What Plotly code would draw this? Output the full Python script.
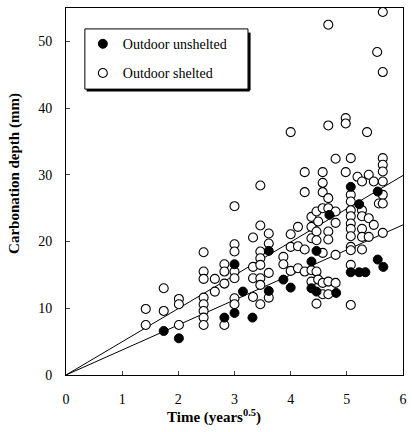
import plotly.graph_objects as go

# ---- data ----
unsheltered_x = [1.74, 2.01, 2.82, 3.00, 3.00, 3.15, 3.32, 3.61, 3.61, 3.87, 4.00,
                 4.37, 4.37, 4.46, 4.46, 4.69, 4.81, 5.07, 5.22, 5.07, 5.22, 5.33,
                 5.55, 5.55, 5.65]
unsheltered_y = [6.6, 5.5, 8.6, 16.6, 9.3, 12.5, 8.6, 18.6, 12.6, 14.3, 13.1,
                 17.0, 13.0, 18.6, 12.5, 24.0, 12.3, 28.2, 25.6, 15.4, 15.4, 15.4,
                 27.5, 17.3, 16.2]

sheltered_cols = {
    1.42: [9.9, 7.5],
    1.74: [13.0, 9.6],
    2.01: [11.4, 10.6, 7.5],
    2.45: [18.4, 15.5, 14.4, 11.6, 10.6, 9.6, 8.6, 7.5],
    2.65: [14.4, 12.5],
    2.82: [16.6, 15.5, 13.7, 7.5],
    3.00: [25.3, 19.6, 18.5, 15.5, 14.5, 11.5, 10.6],
    3.33: [20.6, 16.2, 14.5, 11.7],
    3.46: [28.4, 22.4, 18.5, 17.5, 16.5, 14.5, 13.5, 10.6],
    3.61: [21.2, 19.7, 15.3, 11.6],
    3.87: [17.7, 16.6],
    4.00: [36.4, 21.1, 19.2, 15.6],
    4.13: [22.2, 19.3, 16.0],
    4.25: [30.4, 27.4, 18.8, 15.5],
    4.37: [23.7, 22.2, 20.5, 15.7, 14.0],
    4.46: [24.5, 21.5, 20.2, 15.5, 10.7],
    4.49: [23.0, 14.3],
    4.57: [30.4, 28.8, 27.4, 25.0, 18.3, 13.8, 12.1],
    4.67: [52.5, 37.4, 26.5, 25.0, 21.5, 20.3, 14.0, 12.1],
    4.80: [32.4, 24.5, 22.8, 18.0, 13.8],
    4.98: [38.5, 37.7, 30.4],
    5.07: [32.5, 27.0, 26.0, 24.7, 23.8, 22.7, 21.9, 20.8, 19.2, 18.7, 16.5, 10.5],
    5.19: [29.7],
    5.27: [29.0, 24.7, 23.8, 21.9, 20.7, 18.8],
    5.36: [36.4],
    5.39: [30.0, 23.5, 20.7],
    5.48: [29.0, 22.5],
    5.54: [48.4],
    5.57: [25.7],
    5.64: [54.4, 45.4, 32.5, 31.5, 30.5, 29.0, 27.0, 25.7, 21.3],
}
sheltered_x = [x for x, ys in sheltered_cols.items() for _ in ys]
sheltered_y = [y for ys in sheltered_cols.values() for y in ys]

fit_x = [0, 6]
fit_sheltered = [0, 29.9]
fit_unsheltered = [0, 22.5]

x_ticks = [0, 1, 2, 3, 4, 5, 6]
y_ticks = [0, 10, 20, 30, 40, 50]

FONT = "Liberation Serif"

fig = go.Figure()
fig.add_trace(go.Scatter(x=fit_x, y=fit_sheltered, mode="lines",
                         line=dict(color="black", width=1), showlegend=False,
                         hoverinfo="skip"))
fig.add_trace(go.Scatter(x=fit_x, y=fit_unsheltered, mode="lines",
                         line=dict(color="black", width=1), showlegend=False,
                         hoverinfo="skip"))
fig.add_trace(go.Scatter(x=sheltered_x, y=sheltered_y, mode="markers",
                         name="Outdoor shelted", legendrank=2, legendgroup="b",
                         marker=dict(symbol="circle", size=9, color="white",
                                     line=dict(color="black", width=1.1))))
fig.add_trace(go.Scatter(x=unsheltered_x, y=unsheltered_y, mode="markers",
                         name="Outdoor unshelted", legendrank=1, legendgroup="a",
                         marker=dict(symbol="circle", size=9, color="black",
                                     line=dict(color="black", width=1))))

# legend box with shadow (paper coords)
bx0, bx1, by0, by1 = 0.056, 0.54, 0.779, 0.943
fig.add_shape(type="rect", xref="paper", yref="paper", x0=bx0, x1=bx1, y0=by0, y1=by1,
              line=dict(color="black", width=1), fillcolor="white", layer="above")
fig.add_shape(type="line", xref="paper", yref="paper", x0=bx0 + 0.005, x1=bx1 + 0.005,
              y0=by0 - 0.003, y1=by0 - 0.003, line=dict(color="black", width=2.5), layer="above")
fig.add_shape(type="line", xref="paper", yref="paper", x0=bx1 + 0.004, x1=bx1 + 0.004,
              y0=by0 - 0.003, y1=by1 - 0.01, line=dict(color="black", width=2.5), layer="above")

fig.update_layout(
    width=412, height=432,
    margin=dict(l=66, r=5, t=8, b=57),
    paper_bgcolor="white", plot_bgcolor="white",
    font=dict(family=FONT, size=14, color="black"),
    showlegend=True,
    legend=dict(x=0.05, y=0.945, xanchor="left", yanchor="top",
                bgcolor="rgba(0,0,0,0)", borderwidth=0,
                font=dict(family=FONT, size=14, color="black"),
                tracegroupgap=8, itemwidth=30),
    xaxis=dict(range=[0, 6], tickvals=x_ticks, ticks="inside", ticklen=4,
               showline=True, linecolor="black", linewidth=1, mirror=True,
               showgrid=False, zeroline=False, ticklabelstandoff=11,
               tickfont=dict(family=FONT, size=14)),
    yaxis=dict(range=[0, 55], tickvals=y_ticks, ticks="inside", ticklen=4,
               showline=True, linecolor="black", linewidth=1, mirror=True,
               showgrid=False, zeroline=False, ticklabelstandoff=10,
               tickfont=dict(family=FONT, size=14)),
    annotations=[
        dict(text="<b>Time (years<sup>0.5</sup>)</b>", xref="paper", yref="paper",
             x=0.44, y=-0.112, xanchor="center", yanchor="middle", showarrow=False,
             font=dict(family=FONT, size=15)),
        dict(text="<b>Carbonation depth (mm)</b>", xref="paper", yref="paper",
             x=-0.155, y=0.55, xanchor="center", yanchor="middle", textangle=-90,
             showarrow=False, font=dict(family=FONT, size=15)),
    ],
)

fig.write_html("out.html")
